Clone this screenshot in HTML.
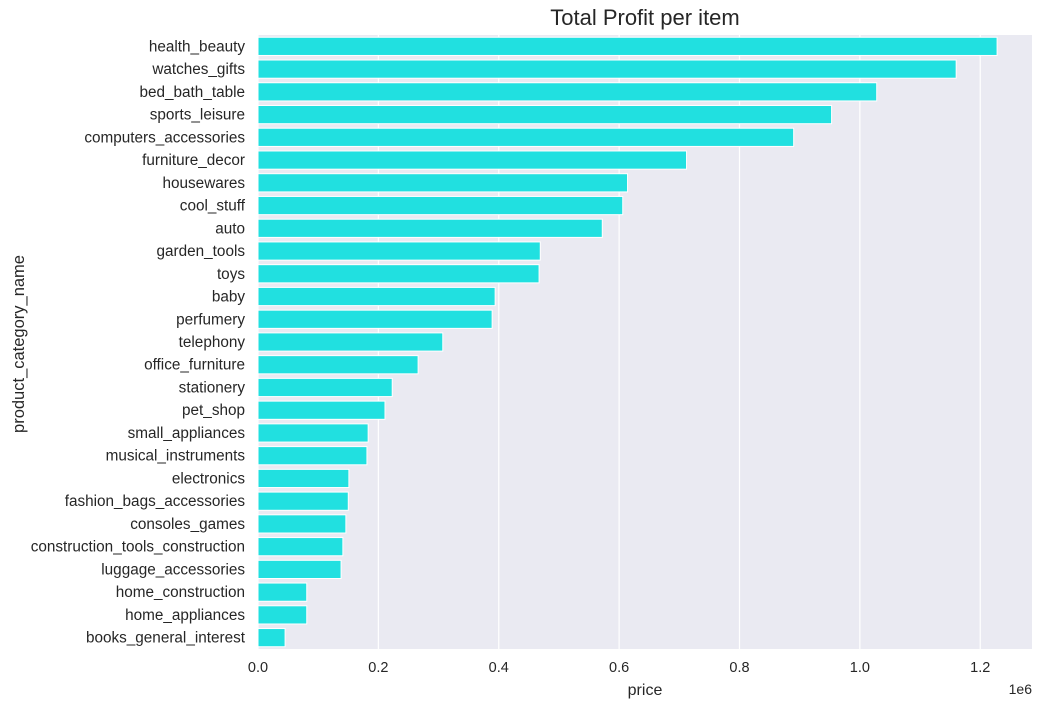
<!DOCTYPE html>
<html><head><meta charset="utf-8"><style>
body{margin:0;background:#fff;font-family:"Liberation Sans","DejaVu Sans",sans-serif;}
svg text{font-family:"Liberation Sans","DejaVu Sans",sans-serif;fill:#262626;}
</style></head><body>
<svg id="chart" width="1043" height="708" viewBox="0 0 1043 708" xmlns="http://www.w3.org/2000/svg"></svg>
<script>
const categories=["health_beauty","watches_gifts","bed_bath_table","sports_leisure","computers_accessories","furniture_decor","housewares","cool_stuff","auto","garden_tools","toys","baby","perfumery","telephony","office_furniture","stationery","pet_shop","small_appliances","musical_instruments","electronics","fashion_bags_accessories","consoles_games","construction_tools_construction","luggage_accessories","home_construction","home_appliances","books_general_interest"];
const values=[1.228,1.16,1.028,0.953,0.89,0.712,0.614,0.606,0.572,0.469,0.467,0.394,0.389,0.307,0.266,0.223,0.211,0.183,0.181,0.151,0.150,0.146,0.141,0.138,0.081,0.081,0.045];
const tickValues=[0,0.2,0.4,0.6,0.8,1.0,1.2];
const tickLabels=["0.0","0.2","0.4","0.6","0.8","1.0","1.2"];
const NS="http://www.w3.org/2000/svg";
const svg=document.getElementById('chart');
const L=258,R=1032,T=35,B=649,XMAX=1.286;
const n=categories.length;
function xs(v){return L+(v/XMAX)*(R-L);}
const step=(B-T)/n;
function yc(i){return T+(i+0.5)*step;}
function mk(tag,attrs){const e=document.createElementNS(NS,tag);for(const k in attrs)e.setAttribute(k,attrs[k]);svg.appendChild(e);return e;}
const bg=mk('rect',{x:L,y:T,width:R-L,height:B-T,fill:'#eaeaf2'});


tickValues.forEach((v,i)=>{
  const g=mk('line',{x1:xs(v),x2:xs(v),y1:T,y2:B,stroke:'#fff','stroke-width':1.2});
  
  
  const t=mk('text',{x:xs(v),y:672,'text-anchor':'middle','font-size':14.5});
  t.textContent=tickLabels[i];
  
  
});
const bh=step*0.8;
categories.forEach((c,i)=>{
  const r=mk('rect',{x:xs(0),y:yc(i)-bh/2,width:xs(values[i])-xs(0),height:bh,fill:'#21e0e0',stroke:'#fff','stroke-width':1});
  
  
  const t=mk('text',{x:L-13,y:yc(i)+5,'text-anchor':'end','font-size':15.3});
  t.textContent=c;
  
  
});
let t=mk('text',{x:645,y:25,'text-anchor':'middle','font-size':22});
t.textContent='Total Profit per item';


t=mk('text',{x:645,y:695,'text-anchor':'middle','font-size':16});
t.textContent='price';


t=mk('text',{x:1032,y:694,'text-anchor':'end','font-size':14});
t.textContent='1e6';


t=mk('text',{x:24,y:344,'text-anchor':'middle','font-size':16.5,transform:'rotate(-90 24 344)'});
t.textContent='product_category_name';


</script>
</body></html>
